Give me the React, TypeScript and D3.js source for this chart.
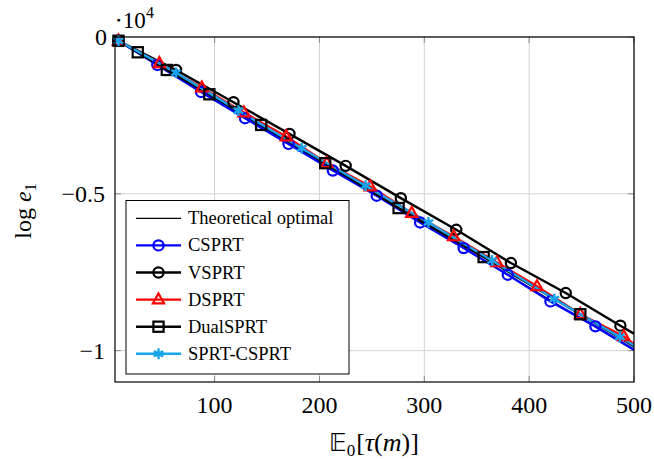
import React from "react";
import * as d3 from "d3";

const W = 654;
const H = 459;

const xTicks = [100, 200, 300, 400, 500];
const yTicks = [0, -5000, -10000];
const yTickLabels = ["0", "−0.5", "−1"];

// Theoretical optimal
const theoX = [8.3, 500];
const theoY = [-120, -9990];

// CSPRT
const csprtX = [8.3, 45.4, 87.1, 129, 170.5, 212.8, 254.6, 296, 337.5, 379.6, 420.3, 463.2, 500];
const csprtY = [-120, -892, -1752, -2590, -3408, -4257, -5060, -5913, -6730, -7580, -8430, -9226, -9970];

// VSPRT
const vsprtX = [8.3, 63.2, 118, 171.4, 225, 277.6, 330.5, 382.6, 434.9, 487, 500];
const vsprtY = [-120, -1051, -2080, -3090, -4108, -5138, -6146, -7207, -8163, -9204, -9460];

// DSPRT
const dsprtX = [8.3, 47.3, 87.8, 128, 168.3, 207, 248.5, 288, 328, 369.3, 407.5, 448.8, 490.3, 500];
const dsprtY = [-120, -838, -1614, -2410, -3174, -4023, -4770, -5615, -6360, -7188, -7952, -8840, -9545, -9790];

// DualSPRT
const dualX = [8.3, 26.7, 54.4, 95, 144.4, 205.5, 275.5, 356.6, 448.8, 500];
const dualY = [-120, -487, -1051, -1826, -2803, -4023, -5455, -7017, -8840, -9860];

// SPRT-CSPRT
const scX = [8.3, 63.2, 122.7, 183, 244, 304, 364.6, 424, 486.5, 500];
const scY = [-120, -1137, -2347, -3545, -4740, -5913, -7124, -8354, -9564, -9830];

const CYAN = "#16a4ee";

type MarkType = "none" | "circle" | "square" | "triangle" | "asterisk";

const series: { name: string; xs: number[]; ys: number[]; color: string; mark: MarkType; width: number }[] = [
  { name: "Theoretical optimal", xs: theoX, ys: theoY, color: "#000000", mark: "none", width: 1.2 },
  { name: "CSPRT", xs: csprtX, ys: csprtY, color: "#0000ff", mark: "circle", width: 2.4 },
  { name: "VSPRT", xs: vsprtX, ys: vsprtY, color: "#000000", mark: "circle", width: 2.4 },
  { name: "DSPRT", xs: dsprtX, ys: dsprtY, color: "#ff0000", mark: "triangle", width: 2.4 },
  { name: "DualSPRT", xs: dualX, ys: dualY, color: "#000000", mark: "square", width: 2.4 },
  { name: "SPRT-CSPRT", xs: scX, ys: scY, color: CYAN, mark: "asterisk", width: 2.4 },
];

const FONT = "'Liberation Serif', 'DejaVu Serif', serif";

const L = 115, R = 634, T = 37, B = 382;

const x = d3.scaleLinear().domain([5, 500]).range([L, R]);
const y = d3.scaleLinear().domain([-11000, 0]).range([B, T]);

function Marker({ type, cx, cy, color }: { type: MarkType; cx: number; cy: number; color: string }) {
  const sw = 2.2;
  if (type === "circle") return <circle cx={cx} cy={cy} r={5.1} fill="none" stroke={color} strokeWidth={sw} />;
  if (type === "square") return <rect x={cx - 5.1} y={cy - 5.1} width={10.2} height={10.2} fill="none" stroke={color} strokeWidth={sw} />;
  if (type === "triangle") {
    const p = `${cx},${cy - 6.2} ${cx - 5.6},${cy + 3.8} ${cx + 5.6},${cy + 3.8}`;
    return <polygon points={p} fill="none" stroke={color} strokeWidth={sw} strokeLinejoin="miter" />;
  }
  if (type === "asterisk") {
    const r = 5.4;
    const angs = [90, 30, 150].map((a) => (a * Math.PI) / 180);
    return (
      <g stroke={color} strokeWidth={2.5}>
        {angs.map((a, i) => (
          <line key={i} x1={cx - r * Math.cos(a)} y1={cy - r * Math.sin(a)} x2={cx + r * Math.cos(a)} y2={cy + r * Math.sin(a)} />
        ))}
      </g>
    );
  }
  return null;
}

export default function App() {
  const line = d3
    .line<[number, number]>()
    .x((d) => x(d[0]))
    .y((d) => y(d[1]));

  const legX0 = 126, legY0 = 200.5, legX1 = 349, legY1 = 374;
  const rowY = (i: number) => 218.3 + i * 27.1;

  return (
    <svg width={W} height={H} style={{ position: "absolute", left: 0, top: 0, background: "#fff" }} fontFamily={FONT}>
      <defs>
        <clipPath id="plotclip">
          <rect x={L} y={T} width={R - L} height={B - T} />
        </clipPath>
      </defs>
      <rect x={0} y={0} width={W} height={H} fill="#fff" />
      {/* grid */}
      <g stroke="#d2d2d2" strokeWidth={1}>
        {xTicks.map((t) => (
          <line key={"gx" + t} x1={x(t)} x2={x(t)} y1={T} y2={B} />
        ))}
        {yTicks.map((t) => (
          <line key={"gy" + t} x1={L} x2={R} y1={y(t)} y2={y(t)} />
        ))}
      </g>
      {/* tick marks */}
      <g stroke="#8a8a8a" strokeWidth={1}>
        {xTicks.map((t) => (
          <g key={"tx" + t}>
            <line x1={x(t)} x2={x(t)} y1={B} y2={B - 6} />
            <line x1={x(t)} x2={x(t)} y1={T} y2={T + 6} />
          </g>
        ))}
        {yTicks.map((t) => (
          <g key={"ty" + t}>
            <line x1={L} x2={L + 6} y1={y(t)} y2={y(t)} />
            <line x1={R} x2={R - 6} y1={y(t)} y2={y(t)} />
          </g>
        ))}
      </g>
      {/* series */}
      <g clipPath="url(#plotclip)">
        {series.map((s) => (
          <path
            key={s.name}
            d={line(s.xs.map((v, i) => [v, s.ys[i]] as [number, number])) || ""}
            fill="none"
            stroke={s.color}
            strokeWidth={s.width}
            strokeLinejoin="round"
          />
        ))}
      </g>
      <g>
        {series.map((s) =>
          s.mark === "none"
            ? null
            : s.xs.map((v, i) =>
                v >= 500 ? null : <Marker key={s.name + i} type={s.mark} cx={x(v)} cy={y(s.ys[i])} color={s.color} />
              )
        )}
      </g>
      {/* axis box */}
      <rect x={L} y={T} width={R - L} height={B - T} fill="none" stroke="#000" strokeWidth={1.2} />
      {/* x tick labels */}
      {xTicks.map((t) => (
        <text key={"xl" + t} x={x(t)} y={413} textAnchor="middle" fontSize={24} fill="#000">
          {t}
        </text>
      ))}
      {/* y tick labels */}
      {yTicks.map((t, i) => (
        <text key={"yl" + t} x={i === 0 ? 107 : 105} y={y(t) + 8} textAnchor="end" fontSize={24} fill="#000">
          {yTickLabels[i]}
        </text>
      ))}
      {/* scale label */}
      <text x={115} y={28} fontSize={23} fill="#000">
        <tspan>⋅10</tspan>
        <tspan fontSize={16} dy={-10}>4</tspan>
      </text>
      {/* y label */}
      <text transform="translate(31,211) rotate(-90)" textAnchor="middle" fontSize={24} fill="#000">
        <tspan>log </tspan>
        <tspan fontStyle="italic">e</tspan>
        <tspan fontSize={16} dy={5}>1</tspan>
      </text>
      {/* x label */}
      <text x={374} y={451} textAnchor="middle" fontSize={26} fill="#000">
        <tspan fontFamily="'DejaVu Sans', sans-serif" fontSize={24}>𝔼</tspan>
        <tspan fontSize={17} dy={5}>0</tspan>
        <tspan dy={-5} dx={1}>[</tspan>
        <tspan fontStyle="italic">τ</tspan>
        <tspan>(</tspan>
        <tspan fontStyle="italic">m</tspan>
        <tspan>)]</tspan>
      </text>
      {/* legend */}
      <rect x={legX0} y={legY0} width={legX1 - legX0} height={legY1 - legY0} fill="#fff" stroke="#000" strokeWidth={1} />
      {series.map((s, i) => (
        <g key={"leg" + s.name}>
          <line x1={136} x2={181} y1={rowY(i)} y2={rowY(i)} stroke={s.color} strokeWidth={s.width} />
          {s.mark !== "none" && <Marker type={s.mark} cx={158.5} cy={rowY(i)} color={s.color} />}
          <text x={188} y={rowY(i) + 6} fontSize={18.5} fill="#000">
            {s.name}
          </text>
        </g>
      ))}
    </svg>
  );
}
